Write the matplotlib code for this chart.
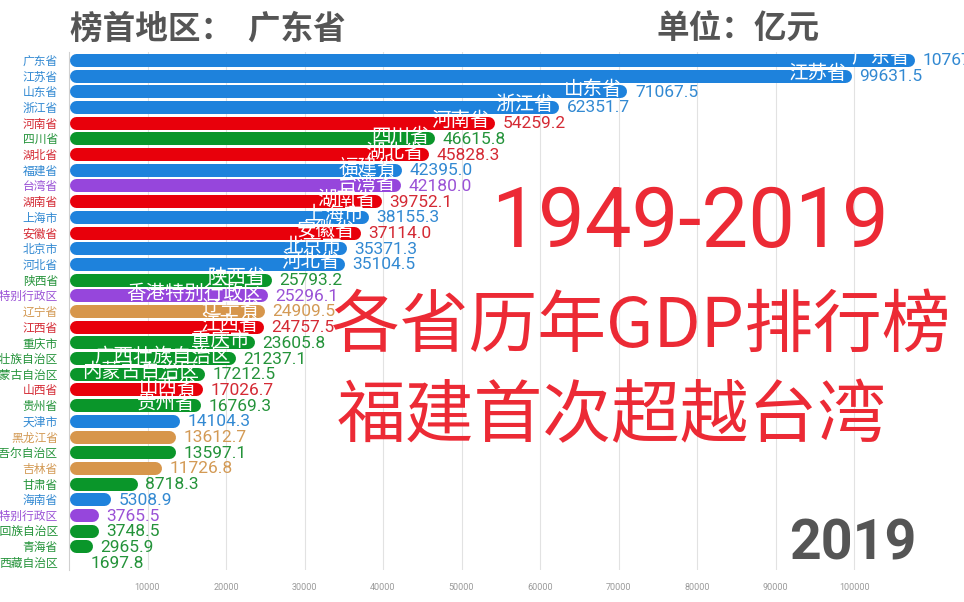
import matplotlib
matplotlib.use('Agg')
import matplotlib.pyplot as plt

plt.rcParams['font.family'] = ['Noto Sans CJK SC', 'DejaVu Sans']

# 2019 GDP by province (100 million yuan), ranked
provinces = ['广东省', '江苏省', '山东省', '浙江省', '河南省', '四川省', '湖北省', '福建省',
             '台湾省', '湖南省', '上海市', '安徽省', '北京市', '河北省', '陕西省', '香港特别行政区',
             '辽宁省', '江西省', '重庆市', '广西壮族自治区', '内蒙古自治区', '山西省', '贵州省',
             '天津市', '黑龙江省', '新疆维吾尔自治区', '吉林省', '甘肃省', '海南省',
             '澳门特别行政区', '宁夏回族自治区', '青海省', '西藏自治区']
gdp = [107671.1, 99631.5, 71067.5, 62351.7, 54259.2, 46615.8, 45828.3, 42395.0,
       42180.0, 39752.1, 38155.3, 37114.0, 35371.3, 35104.5, 25793.2, 25296.1,
       24909.5, 24757.5, 23605.8, 21237.1, 17212.5, 17026.7, 16769.3,
       14104.3, 13612.7, 13597.1, 11726.8, 8718.3, 5308.9,
       3765.5, 3748.5, 2965.9, 1697.8]
groups = ['E', 'E', 'E', 'E', 'C', 'W', 'C', 'E',
          'T', 'C', 'E', 'C', 'E', 'E', 'W', 'T',
          'N', 'C', 'W', 'W', 'W', 'C', 'W',
          'E', 'N', 'W', 'N', 'W', 'E',
          'T', 'W', 'W', 'W']
xticks = [10000, 20000, 30000, 40000, 50000, 60000, 70000, 80000, 90000, 100000]

bar_colors = {'E': '#1e82dc', 'C': '#e8000b', 'W': '#0a962a', 'T': '#9646dc', 'N': '#d7964b'}
text_colors = {'E': '#3289d2', 'C': '#d42a34', 'W': '#24933a', 'T': '#9a52d6', 'N': '#d39a55'}

fig = plt.figure(figsize=(9.64, 6.02), dpi=100)
ax = fig.add_axes([69 / 964, 1 - 570 / 602, 895 / 964, 518 / 602])
xmax = 114000
ax.set_xlim(0, xmax)
n = len(provinces)
ax.set_ylim(n - 0.5, -0.5)

# bar half height in data units, used so the round caps stay inside the value
bar_px = 13
r = bar_px / 2 * xmax / 895
ys = list(range(n))
for i, (name, v, g) in enumerate(zip(provinces, gdp, groups)):
    ax.hlines(i, r, max(v - r, r), colors=bar_colors[g], linewidth=bar_px * 0.72,
              capstyle='round', zorder=3)
    ax.annotate(f'{v:.1f}', xy=(v, i), xytext=(8, -1), textcoords='offset pixels',
                ha='left', va='center', fontsize=12.5, color=text_colors[g],
                family=['Roboto', 'DejaVu Sans'], zorder=4,
                annotation_clip=False)
    if v > 15000:
        ax.annotate(name, xy=(v, i), xytext=(-5, 2), textcoords='offset pixels',
                    ha='right', va='center', fontsize=14, color='white', zorder=4)

ax.set_yticks(ys)
ax.set_yticklabels(provinces, fontsize=8.5)
for lab, g in zip(ax.get_yticklabels(), groups):
    lab.set_color(text_colors[g])
ax.tick_params(axis='y', length=0, pad=8)

ax.set_xticks(xticks)
ax.set_xticklabels([str(t) for t in xticks], fontsize=6.5, color='#9a9a9a',
                   family=['Roboto', 'DejaVu Sans'])
ax.tick_params(axis='x', length=0, pad=9)
ax.grid(axis='x', color='#e2e2e2', linewidth=0.8, zorder=0)
for s in ['top', 'right', 'bottom']:
    ax.spines[s].set_visible(False)
ax.spines['left'].set_color('#d0d0d0')
ax.spines['left'].set_linewidth(0.8)

fig.text(70 / 964, 1 - 29 / 602, '榜首地区：  广东省', fontsize=23.5, fontweight='bold',
         color='#555555', va='center', ha='left')
fig.text(656 / 964, 1 - 29 / 602, '单位：亿元', fontsize=23.5, fontweight='bold',
         color='#555555', va='center', ha='left')

red = '#ec2a35'
fig.text(690 / 964, 1 - 224 / 602, '1949-2019', fontsize=60, color=red,
         family=['Roboto', 'Noto Sans CJK SC'], ha='center', va='center')
fig.text(641 / 964, 1 - 328 / 602, '各省历年GDP排行榜', fontsize=49.5, color=red,
         ha='center', va='center')
fig.text(612 / 964, 1 - 418 / 602, '福建首次超越台湾', fontsize=49.5, color=red,
         ha='center', va='center')
fig.text(853 / 964, 1 - 545 / 602, '2019', fontsize=40, fontweight='bold', color='#555555',
         family=['Roboto', 'DejaVu Sans'], ha='center', va='center')

fig.savefig('out.png', dpi=100)
